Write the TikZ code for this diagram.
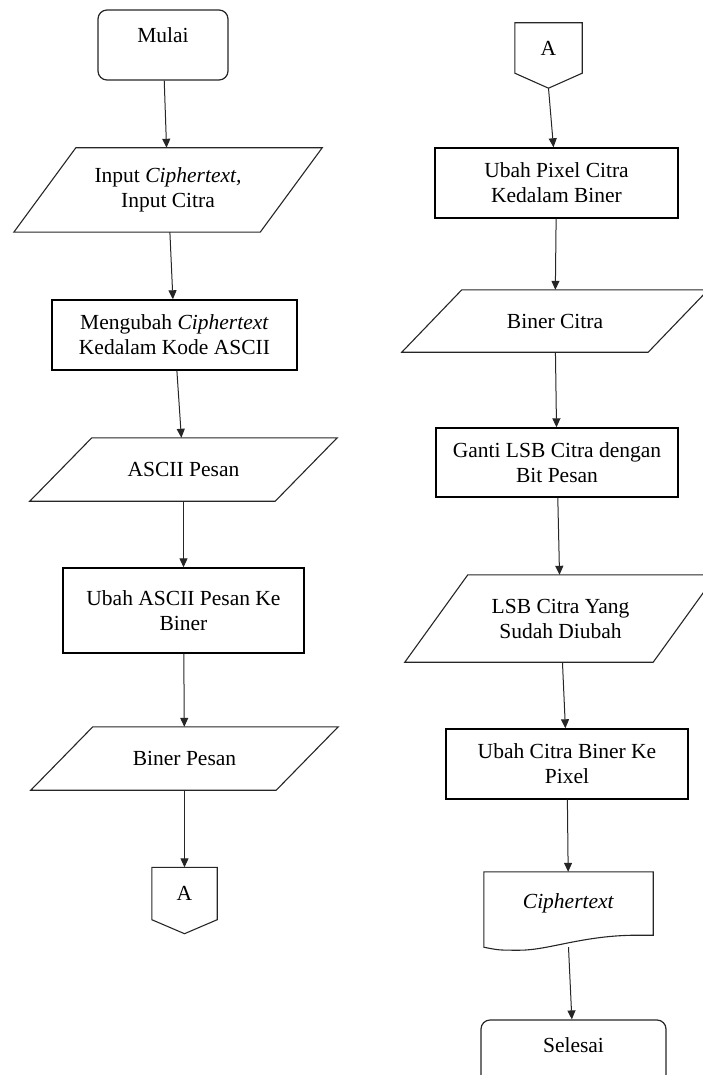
\documentclass[tikz,border=0pt]{standalone}
\usepackage{fontspec}
\setmainfont{Liberation Serif}
\usetikzlibrary{arrows.meta,positioning}
\tikzset{
  procbox/.style={
    rectangle,
    draw=black,
    line width=1.4pt,
    minimum width=242pt,
    minimum height=70pt,
    align=center,
    font=\fontsize{21.5}{25}\selectfont
  },
  iobox/.style={
    rectangle,
    draw=none,
    minimum width=307pt,
    minimum height=63pt,
    align=center,
    font=\fontsize{21.5}{25}\selectfont
  },
  termbox/.style={
    rectangle,
    rounded corners=9pt,
    draw=black!85,
    line width=1.2pt,
    minimum height=70pt,
    align=center,
    font=\fontsize{21.5}{25}\selectfont
  },
  offpage/.style={
    rectangle,
    draw=none,
    minimum width=65pt,
    minimum height=52pt,
    font=\fontsize{21.5}{25}\selectfont
  },
  docbox/.style={rectangle,draw=none,minimum width=169pt,minimum height=63pt,font=\fontsize{21.5}{25}\selectfont},
  shapeline/.style={draw=black!85,line width=1.1pt},
  flowar/.style={-{Triangle[length=9pt,width=8pt]},line width=1pt,draw=black!85}
}
% parallelogram round a node: #1 node, #2 slant
\newcommand{\iooutline}[2]{%
  \draw[shapeline] (#1.south west) -- ([xshift=-#2pt]#1.south east) -- (#1.north east)
    -- ([xshift=#2pt]#1.north west) -- cycle;}
% off-page connector: #1 node, #2 point depth
\newcommand{\offoutline}[2]{%
  \draw[shapeline] (#1.south west) -- (#1.north west) -- (#1.north east) -- (#1.south east)
    -- ([yshift=-#2pt]#1.south) -- cycle;
  \coordinate (#1tip) at ([yshift=-#2pt]#1.south);}

\begin{document}
\begin{tikzpicture}[x=1pt,y=-1pt]
  \useasboundingbox (0,0) rectangle (702,1075);

  % left column
  \node[termbox, minimum width=130pt] (mulai) at (163,45) {Mulai\\[-12pt]\strut};
  \node[iobox, minimum width=308pt, minimum height=84pt] (input) at (168,190)
        {Input \textit{Ciphertext,}\\Input Citra};
  \node[procbox, minimum width=245pt] (mengubah) at (174.5,335)
        {Mengubah \textit{Ciphertext}\\Kedalam Kode ASCII};
  \node[iobox] (asciipesan) at (183.5,469.5) {ASCII Pesan};
  \node[procbox, minimum width=241pt, minimum height=85pt] (ubahascii) at (183.5,610.5)
        {Ubah ASCII Pesan Ke\\Biner};
  \node[iobox] (binerpesan) at (184.5,758.5) {Biner Pesan};
  \node[offpage] (konA) at (184.5,893.5) {A};

  \iooutline{input}{62}
  \iooutline{asciipesan}{62}
  \iooutline{binerpesan}{62}
  \offoutline{konA}{14}

  % right column
  \node[offpage, minimum width=67pt, minimum height=50pt] (konB) at (548.5,48) {A};
  \node[procbox, minimum width=243pt] (ubahpixel) at (556.5,183)
        {Ubah Pixel Citra\\Kedalam Biner};
  \node[iobox, minimum width=306pt, minimum height=62pt] (binercitra) at (555,321) {Biner Citra};
  \node[procbox, minimum height=69pt] (gantilsb) at (557,462.5)
        {Ganti LSB Citra dengan\\Bit Pesan};
  \node[iobox, minimum width=311pt, minimum height=87pt] (lsbcitra) at (560.5,618.5)
        {LSB Citra Yang\\Sudah Diubah};
  \node[procbox] (ubahcitra) at (567,764) {Ubah Citra Biner Ke\\Pixel};
  \node[docbox] (cipher) at (568.5,903.5) {\textit{Ciphertext}};
  \node[termbox, minimum width=185pt] (selesai) at (573.5,1055) {Selesai\\[-12pt]\strut};

  \offoutline{konB}{15}
  \iooutline{binercitra}{60}
  \iooutline{lsbcitra}{63}

  % document outline
  \draw[shapeline] (cipher.north west) -- (cipher.north east) -- (cipher.south east)
    -- ([xshift=-16pt]cipher.south east)
    .. controls ([xshift=-70pt]cipher.south east) and ([xshift=65pt,yshift=-15pt]cipher.south west)
    .. ([xshift=36pt,yshift=-15pt]cipher.south west)
    .. controls ([xshift=15pt,yshift=-15pt]cipher.south west) .. ([yshift=-12pt]cipher.south west)
    -- cycle;
  \coordinate (cipherout) at ([yshift=-12pt]cipher.south);

  % connectors
  \draw[flowar] (mulai) -- (input);
  \draw[flowar] (input) -- (mengubah);
  \draw[flowar] (mengubah) -- (asciipesan);
  \draw[flowar] (asciipesan) -- (ubahascii);
  \draw[flowar] (ubahascii) -- (binerpesan);
  \draw[flowar] (binerpesan) -- (konA);

  \draw[flowar] (konBtip) -- (ubahpixel);
  \draw[flowar] (ubahpixel) -- (binercitra);
  \draw[flowar] (binercitra) -- (gantilsb);
  \draw[flowar] (gantilsb) -- (lsbcitra);
  \draw[flowar] (lsbcitra) -- (ubahcitra);
  \draw[flowar] (ubahcitra) -- (cipher);
  \draw[flowar] (cipherout) -- (selesai);
\end{tikzpicture}
\end{document}
